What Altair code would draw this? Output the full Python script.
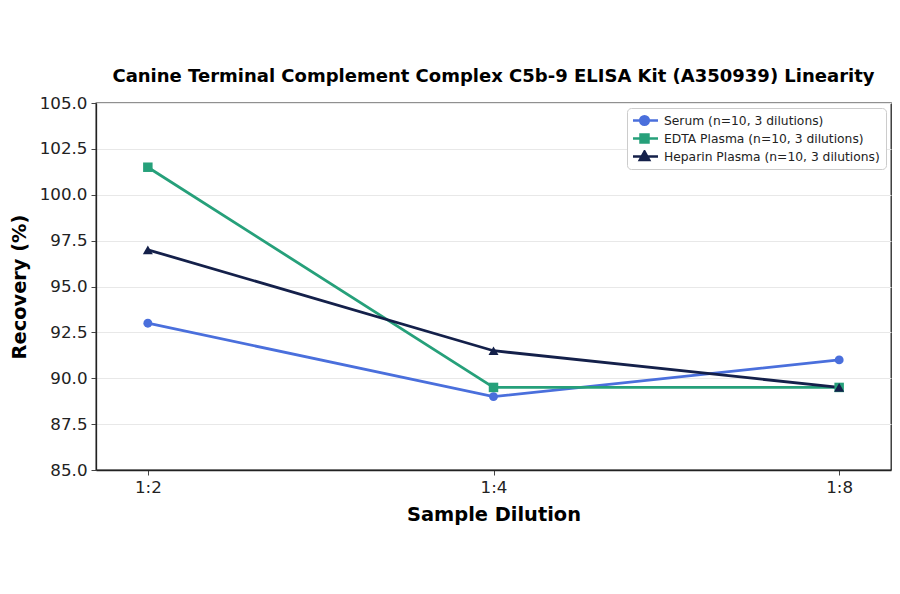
import altair as alt
import pandas as pd

dilutions = ["1:2", "1:4", "1:8"]
series_keys = ["Serum", "EDTA", "Heparin"]
series_names = ["Serum (n=10, 3 dilutions)", "EDTA Plasma (n=10, 3 dilutions)", "Heparin Plasma (n=10, 3 dilutions)"]
serum = [93.0, 89.0, 91.0]
edta = [101.5, 89.5, 89.5]
heparin = [97.0, 91.5, 89.5]
colors = ["#4a6fdc", "#26a07a", "#14204a"]
shapes = ["circle", "square", "triangle-up"]

rows = []
for key, name, vals in zip(series_keys, series_names, [serum, edta, heparin]):
    for d, v in zip(dilutions, vals):
        rows.append({"Dilution": d, "Recovery": v, "Series": name, "Key": key})
df = pd.DataFrame(rows)

legend_paths = [
    "M-2.25,0L2.25,0M-0.7,0A0.7,0.7 0 1,0 0.7,0A0.7,0.7 0 1,0 -0.7,0Z",
    "M-2.25,0L2.25,0M-0.65,-0.65L0.65,-0.65L0.65,0.65L-0.65,0.65Z",
    "M-2.25,0L2.25,0M0,-0.8L0.75,0.55L-0.75,0.55Z",
]

x_enc = alt.X("Dilution:N", sort=dilutions,
              scale=alt.Scale(type="point", padding=0.15),
              axis=alt.Axis(title="Sample Dilution", labelAngle=0))
y_enc = alt.Y("Recovery:Q", scale=alt.Scale(domain=[85, 105], nice=False, zero=False),
              axis=alt.Axis(title="Recovery (%)", values=[85, 87.5, 90, 92.5, 95, 97.5, 100, 102.5, 105],
                            format=".1f"))
color_scale = alt.Scale(domain=series_keys, range=colors)

lines = alt.Chart(df).mark_line(strokeWidth=2.8).encode(
    x=x_enc, y=y_enc,
    color=alt.Color("Key:N", scale=color_scale, legend=None),
    detail="Key:N",
)

point_layers = []
for key, shp, sz in zip(series_keys, shapes, [80, 90, 100]):
    point_layers.append(
        alt.Chart(df).transform_filter(alt.datum.Key == key).mark_point(
            filled=True, size=sz, opacity=1, shape=shp
        ).encode(
            x=x_enc, y=y_enc,
            color=alt.Color("Key:N", scale=color_scale, legend=None),
        )
    )

leg = alt.Legend(
    title=None, orient="top-right", offset=5,
    labelFont="DejaVu Sans", labelFontSize=12.3, labelColor="#222", labelLimit=400,
    symbolSize=144, symbolStrokeWidth=2.7, symbolOpacity=1,
    symbolOffset=4, labelOffset=12,
    rowPadding=5, padding=6, clipHeight=13,
    strokeColor="#cccccc", fillColor="white", cornerRadius=4,
)
legend_layer = alt.Chart(df).mark_point(
    filled=True, opacity=0, strokeWidth=2.5
).encode(
    x=x_enc, y=y_enc,
    fill=alt.Fill("Series:N", scale=alt.Scale(domain=series_names, range=colors), legend=leg),
    stroke=alt.Stroke("Series:N", scale=alt.Scale(domain=series_names, range=colors), legend=leg),
    shape=alt.Shape("Series:N", scale=alt.Scale(domain=series_names, range=legend_paths), legend=leg),
)

chart = alt.layer(lines, *point_layers, legend_layer).properties(
    width=795, height=367,
    title=alt.TitleParams(
        "Canine Terminal Complement Complex C5b-9 ELISA Kit (A350939) Linearity",
        font="DejaVu Sans", fontSize=18, fontWeight="bold", color="#000",
        anchor="middle", offset=9,
    ),
    autosize=alt.AutoSizeParams(type="none"),
    padding={"left": 88, "top": 95, "right": 1, "bottom": 80},
).configure_view(
    stroke="#222", strokeWidth=1.3,
).configure_axis(
    labelFont="DejaVu Sans", labelFontSize=16.7, labelColor="#222",
    titleFont="DejaVu Sans", titleFontSize=19.4, titleFontWeight="bold", titleColor="#000",
    gridColor="#e8e8e8", gridWidth=1,
    domainColor="#222", domainWidth=1.3,
    tickColor="#444", tickSize=5, labelPadding=4,
).configure_axisX(
    titlePadding=10,
).configure_axisY(
    titlePadding=10,
)

chart.save("out.html", embed_options={"renderer": "svg", "actions": False})
